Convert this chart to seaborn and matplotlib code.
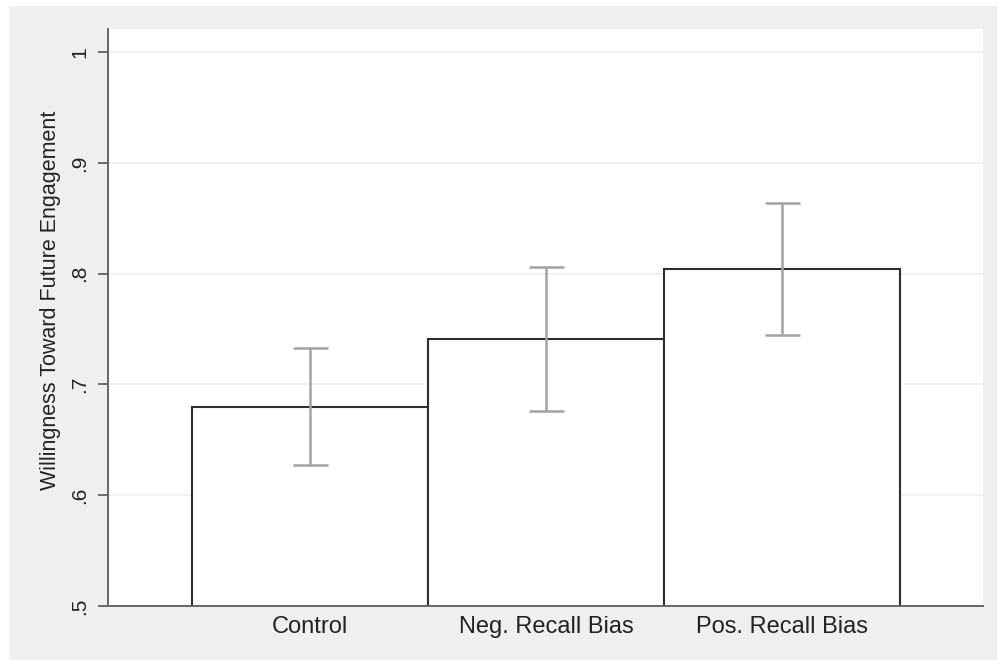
import matplotlib
matplotlib.use("Agg")
import matplotlib.pyplot as plt
import seaborn as sns
import pandas as pd
from matplotlib.patches import Rectangle

categories = ["Control", "Neg. Recall Bias", "Pos. Recall Bias"]
means = [0.680, 0.741, 0.804]
ci_low = [0.627, 0.676, 0.745]
ci_high = [0.733, 0.806, 0.864]
yticks = [0.5, 0.6, 0.7, 0.8, 0.9, 1.0]
ytick_labels = [".5", ".6", ".7", ".8", ".9", "1"]
ylabel = "Willingness Toward Future Engagement"

sns.set_theme(style="white")
plt.rcParams["font.family"] = ["Liberation Sans", "DejaVu Sans"]

W, H = 997, 662
fig = plt.figure(figsize=(W / 100, H / 100), dpi=100, facecolor="white")
fig.patches.append(Rectangle((9 / W, 2 / H), 1 - 9 / W, (660 - 6) / H,
                             transform=fig.transFigure, facecolor="#efefef",
                             edgecolor="none", zorder=-10))
ax = fig.add_axes([108 / W, (H - 606) / H, (983 - 108) / W, (606 - 29) / H])
ax.set_zorder(1)
ax.set_facecolor("white")

df = pd.DataFrame({"group": categories, "value": means})
sns.barplot(data=df, x="group", y="value", order=categories, ax=ax,
            color="white", edgecolor="#2e2e2e", linewidth=1.5, width=1.0,
            errorbar=None, zorder=2)

xs = range(len(categories))
yerr = [[m - l for m, l in zip(means, ci_low)], [h - m for m, h in zip(means, ci_high)]]
ax.errorbar(list(xs), means, yerr=yerr, fmt="none", ecolor="#a3a3a3",
            elinewidth=1.8, capsize=12.6, capthick=1.8, zorder=3)

ax.set_ylim(0.5, 1.0208)
ax.set_xlim(-0.856, 2.852)
ax.set_yticks(yticks)
ax.set_yticklabels(ytick_labels, rotation=90, va="center", fontsize=15, color="#222222")
ax.tick_params(axis="y", direction="out", length=7.5, width=1.2, color="#555555", pad=6, left=True)
ax.tick_params(axis="x", length=0, pad=7, labelsize=17, labelcolor="#222222")
ax.set_xlabel("")
ax.set_ylabel(ylabel, fontsize=15.5, color="#222222")
ax.yaxis.set_label_coords(-(108 - 61) / 875, (606 - 300) / 577)

ax.yaxis.grid(True, color="#ededed", linewidth=1.2, zorder=0)
ax.set_axisbelow(True)
for s in ["top", "right"]:
    ax.spines[s].set_visible(False)
for s in ["left", "bottom"]:
    ax.spines[s].set_color("#666666")
    ax.spines[s].set_linewidth(1.4)

fig.savefig("out.png", dpi=100, facecolor=fig.get_facecolor())
